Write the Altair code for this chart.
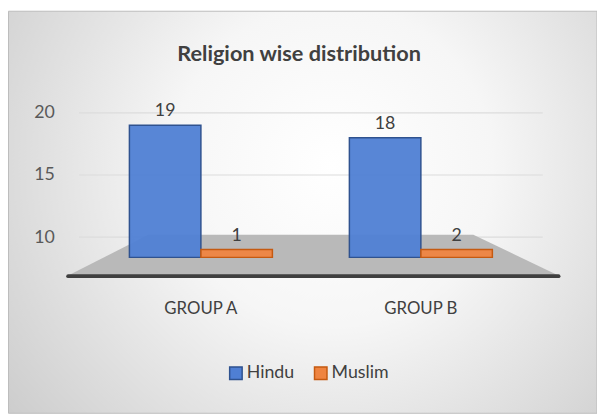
import altair as alt
import pandas as pd

groups = ["GROUP A", "GROUP A", "GROUP B", "GROUP B"]
religions = ["Hindu", "Muslim", "Hindu", "Muslim"]
counts = [19, 1, 18, 2]
series = ["Hindu", "Muslim"]
fill_colors = ["#4f7fd4", "#ef8440"]
stroke_colors = ["#2f528f", "#c55a11"]
y_ticks = [10, 15, 20]

df = pd.DataFrame({"group": groups, "religion": religions, "count": counts})
grid_df = pd.DataFrame({"tick": y_ticks})

W, H = 470, 151
TOP, LEFT = 91, 72
BOTTOM = 408 - TOP - H
RIGHT = 597 - LEFT - W
FONT = "Lato"
# the floor of the 3-D chart sits at about 9, values below it are drawn as thin slabs
y_scale = alt.Scale(domain=[9, 21], nice=False, clamp=True)

bg = alt.Chart(alt.Data(values=[{}])).mark_rect(
    fill=alt.RadialGradient(
        gradient="radial",
        x1=0.55, y1=0.42, r1=0.0,
        x2=0.55, y2=0.42, r2=0.78,
        stops=[
            alt.GradientStop(color="#ffffff", offset=0),
            alt.GradientStop(color="#f6f6f6", offset=0.35),
            alt.GradientStop(color="#c4c4c4", offset=1),
        ],
    ),
    stroke="#bcbcbc",
    strokeWidth=1,
).encode(
    x=alt.value(-LEFT + 0.5), x2=alt.value(W + RIGHT),
    y=alt.value(-TOP + 0.5), y2=alt.value(H + BOTTOM),
)

grid = alt.Chart(grid_df).mark_rule(color="#dcdcdc", strokeWidth=1.2).encode(
    y=alt.Y("tick:Q", scale=y_scale),
    x=alt.value(0), x2=alt.value(W),
)

floor = alt.Chart(alt.Data(values=[{}])).mark_point(
    filled=True,
    shape="M -1 0.084 L 1 0.084 L 0.65 -0.084 L -0.67 -0.084 Z",
    size=249001,
    color="#b9b9b9",
    opacity=1,
).encode(x=alt.value(237.5), y=alt.value(157))

baseline = alt.Chart(alt.Data(values=[{}])).mark_rule(
    color="#3f3f3f", strokeWidth=4, strokeCap="round"
).encode(x=alt.value(-11), x2=alt.value(486), y=alt.value(178))

base = alt.Chart(df).encode(
    x=alt.X(
        "group:N",
        title=None,
        scale=alt.Scale(paddingInner=0.35, paddingOuter=0.229),
        axis=alt.Axis(
            labelAngle=0, labelFontSize=17, labelColor="#404040", labelFont=FONT,
            domain=False, ticks=False, labelPadding=52, grid=False, zindex=2,
        ),
    ),
    xOffset=alt.XOffset("religion:N", scale=alt.Scale(domain=series)),
)

bars = base.mark_bar(strokeWidth=1.5, fillOpacity=0.95).encode(
    y=alt.Y(
        "count:Q",
        title=None,
        stack=None,
        scale=y_scale,
        axis=alt.Axis(
            values=y_ticks, labelFontSize=18, labelColor="#595959", labelFont=FONT,
            domain=False, ticks=False, labelPadding=25, grid=False, zindex=2,
        ),
    ),
    y2=alt.value(H + 8),
    fill=alt.Fill(
        "religion:N",
        scale=alt.Scale(domain=series, range=fill_colors),
        title=None,
        legend=alt.Legend(
            orient="none", legendX=150, legendY=267, direction="horizontal",
            symbolType="square", symbolSize=160, symbolStrokeWidth=1.5,
            labelFontSize=18, labelColor="#404040", labelFont=FONT,
            labelOffset=2, columnPadding=16,
        ),
    ),
    stroke=alt.Stroke(
        "religion:N",
        scale=alt.Scale(domain=series, range=stroke_colors),
        title=None,
    ),
)

labels = base.mark_text(
    fontSize=18, color="#404040", font=FONT, baseline="bottom", dy=-5
).encode(
    y=alt.Y("count:Q", scale=y_scale, stack=None),
    text=alt.Text("count:Q"),
)

chart = alt.layer(bg, grid, floor, baseline, bars, labels).properties(
    width=W,
    height=H,
    title=alt.TitleParams(
        "Religion wise distribution",
        font=FONT, fontSize=22, fontWeight="bold", color="#404040",
        anchor="middle", offset=-73, dx=-12, baseline="alphabetic",
    ),
    autosize=alt.AutoSizeParams(type="none"),
    padding={"left": LEFT, "top": TOP, "right": RIGHT, "bottom": BOTTOM},
).configure_view(stroke=None).configure(background="#ffffff")

chart.save("out.html", embed_options={"renderer": "svg", "actions": False})
